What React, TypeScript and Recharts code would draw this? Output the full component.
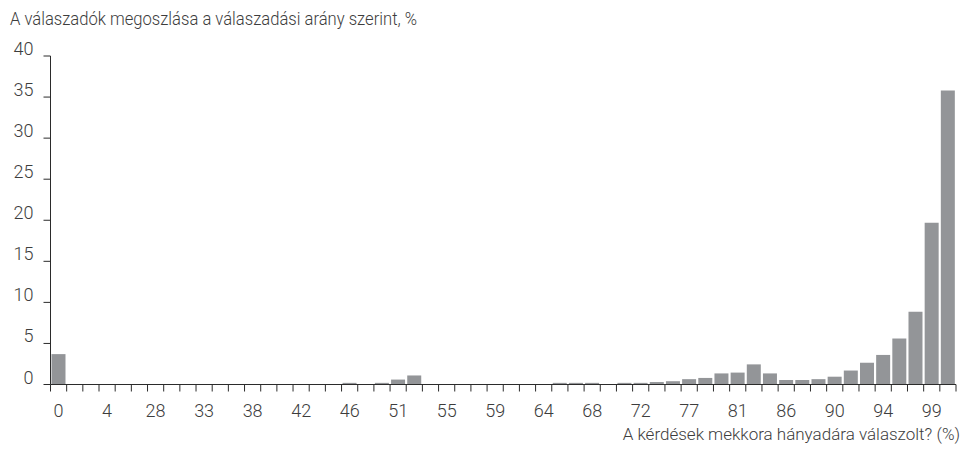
import React from "react";
import { BarChart, Bar, XAxis, YAxis } from "recharts";

const categories: number[] = [
  0, 1, 3, 4, 26, 27, 28, 30, 31, 33, 34, 36, 38, 39, 41, 42, 44, 45, 46, 48,
  50, 51, 52, 54, 55, 57, 58, 59, 61, 63, 64, 65, 67, 68, 70, 71, 72, 74, 75, 77,
  78, 80, 81, 83, 84, 86, 87, 88, 90, 91, 93, 94, 96, 97, 99, 100,
];

const shares: number[] = [
  3.7, 0, 0, 0, 0, 0, 0, 0, 0, 0, 0, 0, 0, 0, 0, 0, 0, 0, 0.2, 0,
  0.2, 0.6, 1.1, 0, 0, 0, 0, 0, 0, 0, 0, 0.2, 0.2, 0.2, 0, 0.2, 0.2, 0.3, 0.4, 0.65,
  0.8, 1.35, 1.45, 2.45, 1.35, 0.55, 0.55, 0.65, 0.95, 1.7, 2.65, 3.6, 5.6, 8.85, 19.7, 35.8,
];

const yTicks: number[] = [0, 5, 10, 15, 20, 25, 30, 35, 40];

const chartTitle = "A válaszadók megoszlása a válaszadási arány szerint, %";
const xTitle = "A kérdések mekkora hányadára válaszolt? (%)";

const data = categories.map((c, i) => ({ name: String(c), value: shares[i] }));

const FONT = "Roboto, 'Open Sans', sans-serif";
const TEXT = "#3d3d3d";
const AXIS = "#2b2b2b";
const BAR = "#939598";

const W = 966;
const H = 449;
const LEFT = 50.5;
const RIGHT_M = 10;
const HALF = (W - RIGHT_M - LEFT) / categories.length / 2;

const XTick = (props: any) => {
  const { x, y, payload, index } = props;
  const half = payload && payload.offset ? payload.offset : HALF;
  const last = index === categories.length - 1;
  return (
    <g>
      <line x1={x - half} x2={x - half} y1={y} y2={y + 7} stroke={AXIS} strokeWidth={1} />
      {last && <line x1={x + half} x2={x + half} y1={y} y2={y + 7} stroke={AXIS} strokeWidth={1} />}
      {index % 3 === 0 && (
        <text x={x} y={y + 32} textAnchor="middle" fill={TEXT} fontFamily={FONT} fontWeight={300} fontSize={18}>
          {payload.value}
        </text>
      )}
    </g>
  );
};

const YTick = (props: any) => {
  const { x, y, payload } = props;
  return (
    <g>
      <line x1={x - 7} x2={x} y1={y} y2={y} stroke={AXIS} strokeWidth={1} />
      <text x={x - 17} y={y - 1} textAnchor="end" fill={TEXT} fontFamily={FONT} fontWeight={300} fontSize={18}>
        {payload.value}
      </text>
    </g>
  );
};

export default function App() {
  return (
    <div style={{ position: "absolute", left: 0, top: 0, width: W, height: H, background: "#fff" }}>
      <BarChart
        width={W}
        height={H}
        data={data}
        margin={{ top: 56, right: RIGHT_M, bottom: 34.5, left: 0 }}
        barCategoryGap={1}
      >
        <XAxis
          dataKey="name"
          interval={0}
          height={30}
          tickLine={false}
          tickSize={0}
          tickMargin={0}
          axisLine={{ stroke: AXIS, strokeWidth: 1 }}
          tick={<XTick />}
        />
        <YAxis
          type="number"
          domain={[0, 40]}
          ticks={yTicks}
          width={LEFT}
          tickLine={false}
          tickSize={0}
          tickMargin={0}
          axisLine={{ stroke: AXIS, strokeWidth: 1 }}
          tick={<YTick />}
        />
        <Bar dataKey="value" fill={BAR} isAnimationActive={false} />
      </BarChart>
      <svg width={W} height={H} style={{ position: "absolute", left: 0, top: 0, pointerEvents: "none" }}>
        <text x={10} y={25} fill={TEXT} fontFamily={FONT} fontWeight={300} fontSize={18} textLength={407} lengthAdjust="spacingAndGlyphs">
          {chartTitle}
        </text>
        <text x={960} y={440} textAnchor="end" fill={TEXT} fontFamily={FONT} fontWeight={300} fontSize={17}>
          {xTitle}
        </text>
      </svg>
    </div>
  );
}
